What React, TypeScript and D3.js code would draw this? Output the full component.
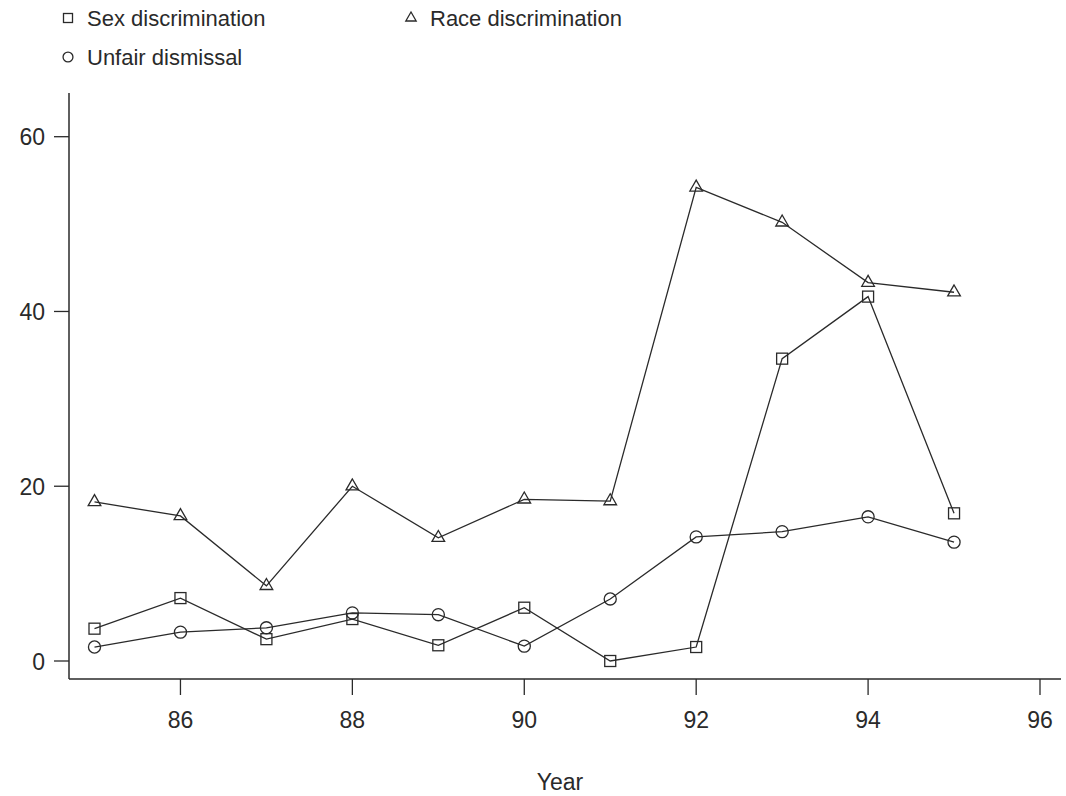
import React from "react";
import * as d3 from "d3";

// Tribunal claims by year (two-digit years), per category
const years = [85, 86, 87, 88, 89, 90, 91, 92, 93, 94, 95];
const sexDiscrimination = [3.7, 7.2, 2.5, 4.8, 1.8, 6.1, 0, 1.6, 34.6, 41.7, 16.9];
const raceDiscrimination = [18.2, 16.6, 8.6, 20.0, 14.1, 18.5, 18.3, 54.2, 50.2, 43.3, 42.2];
const unfairDismissal = [1.6, 3.3, 3.8, 5.5, 5.3, 1.7, 7.1, 14.2, 14.8, 16.5, 13.6];

const xTicks = [86, 88, 90, 92, 94, 96];
const yTicks = [0, 20, 40, 60];

const W = 1066;
const H = 796;
const INK = "#2a2a2a";
const FONT = "'Liberation Sans', Arial, Helvetica, sans-serif";

type Shape = "square" | "triangle" | "circle";

function Marker({ shape, cx, cy, size }: { shape: Shape; cx: number; cy: number; size: number }) {
  const common = { fill: "none", stroke: INK, strokeWidth: 1.3 };
  if (shape === "square") {
    return <rect x={cx - size / 2} y={cy - size / 2} width={size} height={size} {...common} />;
  }
  if (shape === "circle") {
    return <circle cx={cx} cy={cy} r={size * 0.55} {...common} />;
  }
  const s = size * 1.15;
  const h = s * 0.866;
  const pts = [
    [cx, cy - (2 * h) / 3],
    [cx - s / 2, cy + h / 3],
    [cx + s / 2, cy + h / 3],
  ]
    .map((p) => p.join(","))
    .join(" ");
  return <polygon points={pts} {...common} />;
}

export default function App() {
  const x = d3.scaleLinear().domain([85, 96]).range([94.5, 1040]);
  const y = d3.scaleLinear().domain([0, 60]).range([661, 136.7]);

  const axisLeft = 69;
  const axisBottom = 679;

  const line = d3
    .line<number>()
    .x((_, i) => x(years[i]))
    .y((v) => y(v));

  const series: { name: string; values: number[]; shape: Shape }[] = [
    { name: "Sex discrimination", values: sexDiscrimination, shape: "square" },
    { name: "Race discrimination", values: raceDiscrimination, shape: "triangle" },
    { name: "Unfair dismissal", values: unfairDismissal, shape: "circle" },
  ];

  const legend = [
    { s: series[0], lx: 68, ly: 18 },
    { s: series[1], lx: 411, ly: 18 },
    { s: series[2], lx: 68, ly: 57 },
  ];

  return (
    <svg
      width={W}
      height={H}
      style={{ position: "absolute", left: 0, top: 0, background: "#fff" }}
      fontFamily={FONT}
    >
      {/* legend */}
      {legend.map(({ s, lx, ly }) => (
        <g key={s.name}>
          <Marker shape={s.shape} cx={lx} cy={ly} size={9} />
          <text x={lx + 19} y={ly + 8} fontSize={22} fill={INK}>
            {s.name}
          </text>
        </g>
      ))}

      {/* axes */}
      <line x1={axisLeft} x2={axisLeft} y1={93} y2={axisBottom} stroke={INK} strokeWidth={1.5} />
      <line x1={axisLeft} x2={1061} y1={axisBottom} y2={axisBottom} stroke={INK} strokeWidth={1.5} />
      {yTicks.map((t) => (
        <g key={`y${t}`}>
          <line x1={axisLeft - 15} x2={axisLeft} y1={y(t)} y2={y(t)} stroke={INK} strokeWidth={1.3} />
          <text x={45} y={y(t) + 8.5} fontSize={23} textAnchor="end" fill={INK}>
            {t}
          </text>
        </g>
      ))}
      {xTicks.map((t) => (
        <g key={`x${t}`}>
          <line x1={x(t)} x2={x(t)} y1={axisBottom} y2={axisBottom + 16} stroke={INK} strokeWidth={1.3} />
          <text x={x(t)} y={728} fontSize={23} textAnchor="middle" fill={INK}>
            {t}
          </text>
        </g>
      ))}
      <text x={560} y={790} fontSize={23} textAnchor="middle" fill={INK}>
        Year
      </text>

      {/* series */}
      {series.map((s) => (
        <g key={s.name}>
          <path d={line(s.values) ?? ""} fill="none" stroke={INK} strokeWidth={1.3} />
          {s.values.map((v, i) => (
            <Marker key={i} shape={s.shape} cx={x(years[i])} cy={y(v)} size={11} />
          ))}
        </g>
      ))}
    </svg>
  );
}
